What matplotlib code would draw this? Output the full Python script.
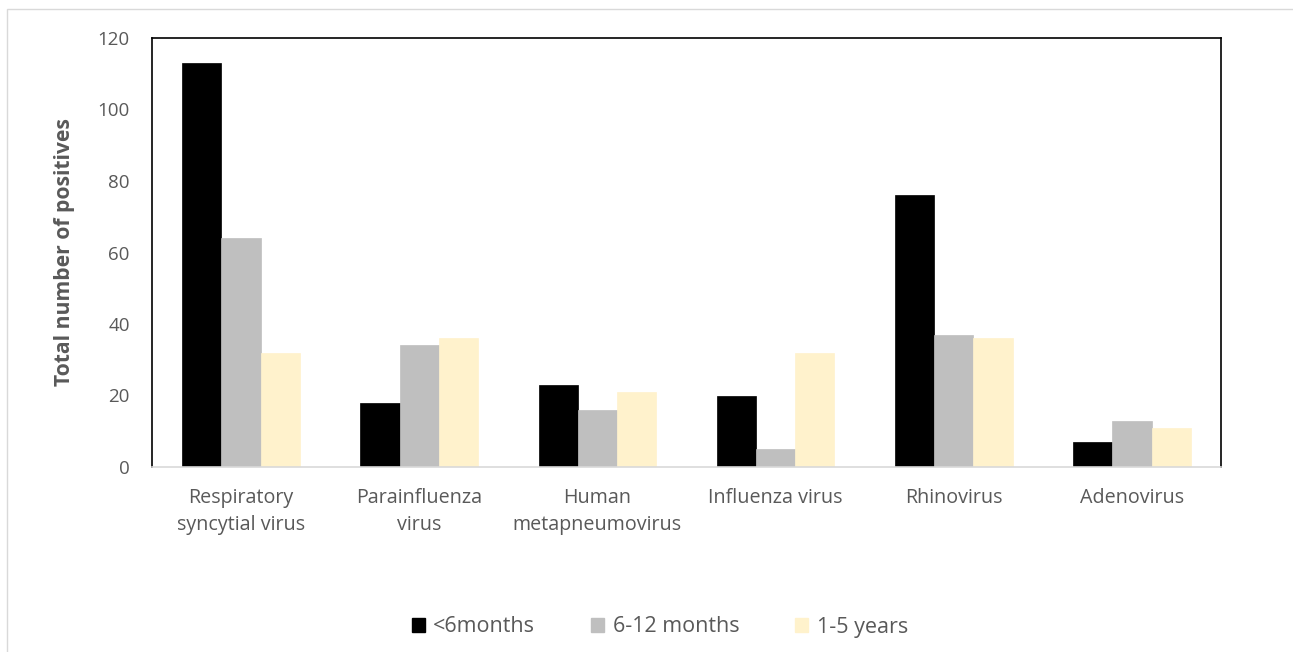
import numpy as np
import matplotlib
matplotlib.use("Agg")
import matplotlib.pyplot as plt
from matplotlib.patches import Rectangle, Patch

# Datos
categories = ["Respiratory\nsyncytial virus", "Parainfluenza\nvirus",
              "Human\nmetapneumovirus", "Influenza virus",
              "Rhinovirus", "Adenovirus"]
under_6m = [113, 18, 23, 20, 76, 7]
m6_12 = [64, 34, 16, 5, 37, 13]
y1_5 = [32, 36, 21, 32, 36, 11]
series_names = ["<6months", "6-12 months", "1-5 years"]
colors = ["#000000", "#bfbfbf", "#fff2cc"]
yticks = [0, 20, 40, 60, 80, 100, 120]

plt.rcParams['font.family'] = ['Open Sans', 'DejaVu Sans']
text_color = "#595959"

W, H = 1293, 652
fig = plt.figure(figsize=(W / 100, H / 100), dpi=100)

# marco exterior gris claro (sin borde inferior ni derecho visibles)
fig.patches.append(Rectangle((7 / W, -0.2), 1.2, 1.2 - 9 / H,
                             transform=fig.transFigure, fill=False,
                             edgecolor="#d9d9d9", linewidth=1))

ax = fig.add_axes([152 / W, 1 - 467 / H, (1221 - 152) / W, (467 - 38) / H])

x = np.arange(len(categories))
bw = 0.22
for i, (vals, name, c) in enumerate(zip([under_6m, m6_12, y1_5], series_names, colors)):
    ax.bar(x + (i - 1) * bw, vals, width=bw, color=c, label=name,
           edgecolor=c, linewidth=0.5)

ax.set_xlim(-0.5, len(categories) - 0.5)
ax.set_ylim(0, 120)
ax.set_yticks(yticks)
ax.set_xticks(x)
ax.set_xticklabels(categories, fontsize=14.2, color=text_color, linespacing=1.5)
ax.tick_params(axis="y", labelsize=13.5, colors=text_color, length=0, pad=16)
ax.tick_params(axis="x", length=0, pad=15)

for s in ["left", "top", "right"]:
    ax.spines[s].set_color("black")
    ax.spines[s].set_linewidth(1.2)
ax.spines["bottom"].set_color("#d9d9d9")
ax.spines["bottom"].set_linewidth(1.2)

ax.set_ylabel("Total number of positives", fontsize=15.2, fontweight="bold",
              color=text_color, labelpad=16)

handles = [Patch(facecolor=c, edgecolor=c) for c in colors]
fig.legend(handles, series_names, loc="center", bbox_to_anchor=(660 / W, 1 - 627 / H),
           ncol=3, frameon=False, fontsize=15.5, labelcolor=text_color,
           handlelength=0.6, handleheight=0.6, handletextpad=0.4, columnspacing=2.6)

fig.savefig("out.png", dpi=100)
